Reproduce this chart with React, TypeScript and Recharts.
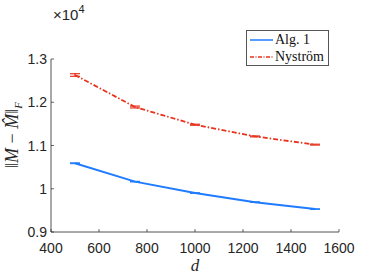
import React from "react";
import { LineChart, Line, XAxis, YAxis, ErrorBar, Legend } from "recharts";

const dValues = [500, 750, 1000, 1250, 1500];
const alg1 = [1.059, 1.0165, 0.99, 0.969, 0.953];
const alg1Err = [0.0008, 0.0006, 0.0005, 0.0005, 0.0005];
const nystrom = [1.263, 1.189, 1.148, 1.121, 1.102];
const nystromErr = [0.003, 0.0022, 0.0012, 0.001, 0.001];
const xTicks = [400, 600, 800, 1000, 1200, 1400, 1600];
const yTicks = [0.9, 1, 1.1, 1.2, 1.3];

const BLUE = "#1f7bff";
const RED = "#e8331e";
const AXIS = "#262626";
const SANS = "'Liberation Sans', Arial, sans-serif";
const SERIF = "'Liberation Serif', 'DejaVu Serif', serif";

const data = dValues.map((d, i) => ({
  d,
  alg1: alg1[i],
  alg1Err: alg1Err[i],
  nystrom: nystrom[i],
  nystromErr: nystromErr[i],
}));

const XTick = ({ x, y, payload }: any) => (
  <g>
    <line x1={x} y1={y} x2={x} y2={y - 3} stroke={AXIS} strokeWidth={0.7} />
    <text x={x} y={y + 21} textAnchor="middle" fontSize={14} fontFamily={SANS} fill={AXIS}>
      {payload.value}
    </text>
  </g>
);

const YTick = ({ x, y, payload }: any) => (
  <g>
    <line x1={x} y1={y} x2={x + 3} y2={y} stroke={AXIS} strokeWidth={0.7} />
    <text x={x - 4} y={y + 5} textAnchor="end" fontSize={14} fontFamily={SANS} fill={AXIS}>
      {String(payload.value)}
    </text>
  </g>
);

const LegendBox = () => (
  <div
    style={{
      border: "1px solid #555",
      background: "#fff",
      width: 83,
      height: 36,
      fontFamily: SERIF,
      fontSize: 14,
      color: "#111",
      lineHeight: "18px",
      boxSizing: "border-box",
    }}
  >
    {[
      { name: "Alg. 1", color: BLUE, dash: undefined },
      { name: "Nyström", color: RED, dash: "4 1.5 1 1.5" },
    ].map((e) => (
      <div key={e.name} style={{ display: "flex", alignItems: "center", height: 17 }}>
        <svg width={28} height={10}>
          <line x1={3} y1={5} x2={26} y2={5} stroke={e.color} strokeWidth={1.5} strokeDasharray={e.dash} />
        </svg>
        <span>{e.name}</span>
      </div>
    ))}
  </div>
);

export default function App() {
  return (
    <div style={{ position: "absolute", left: 0, top: 0, width: 374, height: 278, background: "#fff" }}>
      <LineChart width={374} height={278} data={data} margin={{ top: 23, right: 35, left: 0, bottom: 0 }}>
        <XAxis
          dataKey="d"
          type="number"
          domain={[400, 1600]}
          ticks={xTicks}
          height={46}
          tickLine={false}
          tickSize={0}
          tickMargin={0}
          tick={<XTick />}
          axisLine={{ stroke: AXIS, strokeWidth: 0.8 }}
          interval={0}
        />
        <YAxis
          type="number"
          domain={[0.9, 1.3]}
          ticks={yTicks}
          width={51}
          tickLine={false}
          tickSize={0}
          tickMargin={0}
          tick={<YTick />}
          axisLine={{ stroke: AXIS, strokeWidth: 0.8 }}
          interval={0}
          allowDataOverflow
        />
        <Legend
          verticalAlign="top"
          align="left"
          wrapperStyle={{ position: "absolute", left: 246, top: 30, width: 84 }}
          content={() => <LegendBox />}
        />
        <Line dataKey="alg1" stroke={BLUE} strokeWidth={2} dot={false} isAnimationActive={false}>
          <ErrorBar dataKey="alg1Err" width={5} stroke={BLUE} strokeWidth={1.2} />
        </Line>
        <Line
          dataKey="nystrom"
          stroke={RED}
          strokeWidth={1.8}
          strokeDasharray="5 2 1.5 2"
          dot={false}
          isAnimationActive={false}
        >
          <ErrorBar dataKey="nystromErr" width={5} stroke={RED} strokeWidth={1.2} />
        </Line>
      </LineChart>
      <svg
        width={374}
        height={278}
        style={{ position: "absolute", left: 0, top: 0, pointerEvents: "none" }}
      >
        <text x={53} y={20} fontSize={15} fontFamily={SANS} fill={AXIS}>
          ×10
          <tspan fontSize={11} dy={-7}>4</tspan>
        </text>
        <text
          x={18}
          y={135}
          transform="rotate(-90, 18, 135)"
          textAnchor="middle"
          fontSize={18}
          fontFamily={SERIF}
          fill={AXIS}
        >
          ‖<tspan fontStyle="italic">M</tspan>
          {" − "}
          <tspan fontStyle="italic">M̂</tspan>‖
          <tspan fontStyle="italic" fontSize={11} dy={4}>F</tspan>
        </text>
        <text x={195} y={271} textAnchor="middle" fontSize={17} fontStyle="italic" fontFamily={SERIF} fill={AXIS}>
          d
        </text>
      </svg>
    </div>
  );
}
